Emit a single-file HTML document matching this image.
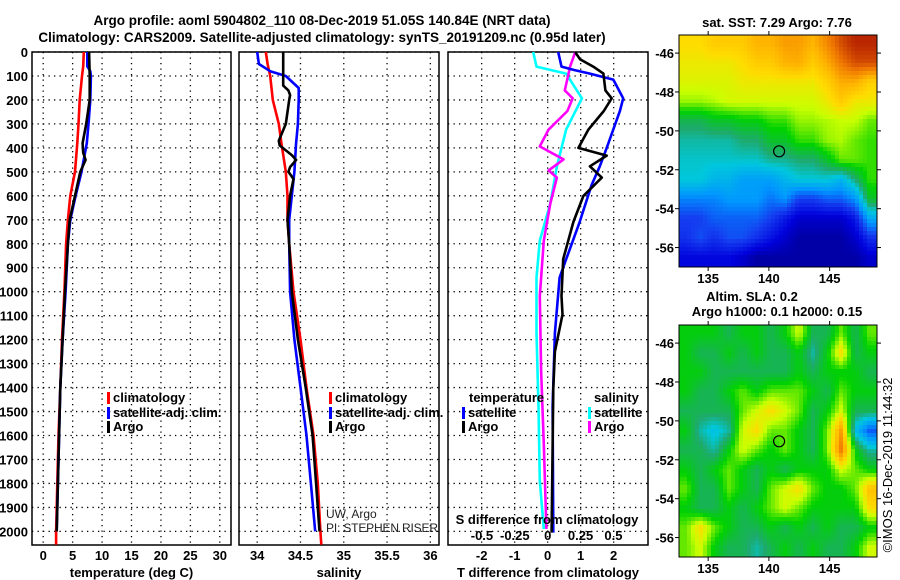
<!DOCTYPE html>
<html><head><meta charset="utf-8">
<style>
html,body{margin:0;padding:0;background:#fff;}
svg{display:block;font-family:"Liberation Sans",Arial,sans-serif;}
.b{font-weight:bold;font-size:13px;fill:#000;}
.t{font-weight:bold;font-size:13.5px;fill:#000;}
</style></head>
<body>
<svg id="chart" width="900" height="580" viewBox="0 0 900 580" xmlns="http://www.w3.org/2000/svg">
<text class="t" x="322" y="25" text-anchor="middle">Argo profile: aoml 5904802_110 08-Dec-2019 51.05S 140.84E (NRT data)</text>
<text class="t" x="322" y="42" text-anchor="middle">Climatology: CARS2009. Satellite-adjusted climatology: synTS_20191209.nc (0.95d later)</text>
<g id="layer"></g>
</svg>
<script>
// ---------- data ----------
const depthTicks=[0,100,200,300,400,500,600,700,800,900,1000,1100,1200,1300,1400,1500,1600,1700,1800,1900,2000];
const tempTicks=[0,5,10,15,20,25,30];
const salTicks=[34,34.5,35,35.5,36];
const tdiffTicks=[-2,-1,0,1,2];
const sdiffTicks=[-0.5,-0.25,0,0.25,0.5];
const sdiffTickLabels=["-0.5","-0.25","0","0.25","0.5"];

const climTempDepth=[0,60,100,200,300,380,500,600,700,800,1000,1200,1400,1600,1800,2000,2055];
const climTemp=[6.9,6.8,6.6,6.2,6.0,5.8,5.4,4.6,4.2,3.9,3.6,3.2,2.9,2.6,2.4,2.2,2.2];
const satTempDepth=[0,60,80,100,200,300,380,500,600,700,800,1000,1200,1400,1600,1800,2000];
const satTemp=[7.5,7.5,8.0,8.1,8.0,7.7,7.4,6.5,5.5,4.6,4.2,3.8,3.3,2.9,2.7,2.5,2.3];
const argoTempDepth=[0,100,200,300,380,420,450,500,600,700,800,1000,1200,1400,1600,1800,2000];
const argoTemp=[7.8,7.9,7.9,7.3,6.7,6.8,7.2,6.3,5.4,4.5,4.2,3.7,3.3,2.9,2.7,2.5,2.3];

const climSalDepth=[0,50,100,200,300,380,500,600,700,800,1000,1200,1400,1600,1800,2000,2055];
const climSal=[34.10,34.12,34.15,34.18,34.25,34.28,34.33,34.35,34.35,34.37,34.42,34.50,34.57,34.65,34.70,34.73,34.74];
const satSalDepth=[0,50,80,100,150,200,300,380,500,600,700,800,1000,1200,1400,1600,1800,2000];
const satSal=[34.00,34.02,34.15,34.33,34.48,34.48,34.47,34.45,34.43,34.40,34.37,34.37,34.38,34.43,34.50,34.57,34.62,34.67];
const argoSalDepth=[0,140,160,180,200,300,370,390,430,450,480,500,530,600,700,800,1000,1200,1400,1600,1800,2000];
const argoSal=[34.30,34.30,34.36,34.38,34.37,34.33,34.25,34.26,34.40,34.45,34.38,34.36,34.42,34.38,34.35,34.37,34.40,34.47,34.56,34.64,34.68,34.72];

const satTdDepth=[0,61,75,90,115,193,246,400,477,555,709,864,941,1172,1480,2005];
const satTd=[0.32,0.42,0.8,1.28,1.99,2.29,2.19,1.79,1.58,1.33,0.97,0.56,0.36,0.22,0.15,0.17];
const argoTdDepth=[0,30,61,90,160,193,246,324,400,432,477,524,601,709,864,1018,1095,1250,1404,2005];
const argoTd=[0.83,0.98,1.38,1.69,1.75,1.94,1.7,1.23,0.93,1.79,1.28,1.64,1.08,0.78,0.47,0.42,0.45,0.22,0.17,0.12];
const satSdDepth=[0,61,90,193,324,477,632,787,941,1172,1480,1789,1990];
const satSd=[-0.11,-0.085,0.14,0.26,0.14,0.07,0.02,-0.06,-0.085,-0.085,-0.07,-0.06,-0.03];
const argoSdDepth=[0,61,160,193,246,324,394,448,494,524,632,787,1018,1327,1635,1990];
const argoSd=[0.21,0.17,0.13,0.19,0.15,0.006,-0.06,0.12,0.007,0.07,0.02,-0.03,-0.06,-0.05,-0.03,-0.01];

const lonTicks=[135,140,145];
const latTicks=[-46,-48,-50,-52,-54,-56];
const sstGrid=[
[7,7,7.3,7.3,7.3,7.7,7.7,8,8,7.7,8.3,9,9.5,9.5],
[6.8,6.8,6.8,6.8,7,7.3,7.3,7.7,7.8,7.3,7.8,8.5,9,9],
[6.6,6.6,6.6,6.6,6.8,6.8,6.8,6.8,6.8,6.8,7.2,7.8,7.8,7.2],
[6.2,6.2,6.3,6.5,6.5,6.5,6.5,6.5,6.5,6.5,6.8,7.3,6.8,6.8],
[5,5,5.3,5.3,5.5,5.5,5.8,5.8,6.2,6.2,6.3,6.4,6.4,6],
[4.5,4.5,4.5,4.5,4.8,4.8,5.3,5.3,5.8,5.8,6.2,6.3,6,5.8],
[4.3,4.3,4.3,4.3,4.3,4.3,4.6,4.6,4.8,4.8,5.3,6,6,5.8],
[4.2,4.2,3.8,3.8,3.4,3.4,3.4,3.8,4.2,4.2,4.2,3.8,4.8,5.8],
[3,3,3,3.3,3.3,3.3,2.8,3.2,2.2,2.2,2.6,2.6,3.2,5.3],
[2.2,2.2,2.6,2.6,2.6,2.6,2.2,1.6,1,1,1,1,1.6,3.6],
[2,2.4,2,2.4,2.4,2,1.5,1,0.5,0.5,0.5,0.5,1,2],
[1.3,1.3,1.3,1.3,1,0.5,0.5,0.5,0.5,0.5,0.5,0.5,0.5,1]];
const slaGrid=[
[5.5,5.5,5.5,5,5.5,5.5,5,5.5,6.5,5,5,6,5,6],
[5.5,5,5,5.5,5,5.5,5,5,5.5,4.5,5.5,7,5,5.5],
[5.5,5.5,5,5,5,5,5,5,5.5,5,5.5,5.5,5.5,5],
[5.5,5,5,5.5,6,5.5,6,6,6,5.5,5,6,5.5,5.5],
[5,5,5,5,6,6.5,7,6.5,6,5,5.5,6.5,5,5],
[5.5,4.5,4,4.5,6.5,7,6,6,5.5,5,6,8,4,2.5],
[5,5,4.5,5.5,6.5,6,5.5,6,5.5,5,6,8.5,5.5,4.5],
[5.5,5,5.5,6,5.5,5,5.5,5,5.5,5.5,5.5,6.5,6,5.5],
[6,5,5,6,5.5,5,6,6.5,7,6,5.5,5.5,6,7.5],
[5.5,5,5,5.5,5,5.5,6,6.5,6,5.5,5.5,5.5,5.5,7],
[6,7,6,5.5,5,5,5.5,5,5.5,5,5.5,5,5,5.5],
[6,6.5,5.5,5,5,4.5,5,5.5,5,5.5,5,5,5.5,6.5]];
const floatLon=140.84, floatLat=-51.05;

// ---------- drawing ----------
const NS="http://www.w3.org/2000/svg";
const L=document.getElementById('layer');
function el(tag,attrs,parent){const e=document.createElementNS(NS,tag);for(const k in attrs)e.setAttribute(k,attrs[k]);(parent||L).appendChild(e);return e;}
function txt(x,y,s,cls,anchor,parent){const e=el('text',{x:x,y:y,'class':cls,'text-anchor':anchor||'middle'},parent);e.textContent=s;return e;}

const PT=52, PB=545;
const yD=d=>PT+d*0.2397;

function panel(name,x0,x1,v0,v1,ticks,labels,xtitle,leftLabels){
  const g=el('g',{});
  
  
  const sx=v=>x0+(v-v0)/(v1-v0)*(x1-x0);
  depthTicks.forEach(d=>{
    const ln=el('line',{x1:x0,x2:x1,y1:yD(d),y2:yD(d),stroke:'#000','stroke-width':1.3,'stroke-dasharray':'1.3 4.2'},g);
    
    
    if(leftLabels){const t=txt(x0-4,yD(d)+5,String(d),'b','end',g);
      
      }
  });
  ticks.forEach((v,i)=>{
    const x=sx(v);
    const ln=el('line',{x1:x,x2:x,y1:PT,y2:PB,stroke:'#000','stroke-width':1.3,'stroke-dasharray':'1.3 4.2'},g);
    
    
    const t=txt(x,560,labels[i],'b','middle',g);
    
    
  });
  const r=el('rect',{x:x0,y:PT,width:x1-x0,height:PB-PT,fill:'none',stroke:'#000','stroke-width':1.5},g);
  
  
  const tt=txt((x0+x1)/2,577,xtitle,'b','middle',g);
  
  
  return {g,sx};
}
function series(p,depths,vals,color,name){
  const pts=depths.map((d,i)=>p.sx(vals[i]).toFixed(1)+','+yD(d).toFixed(1)).join(' ');
  const pl=el('polyline',{points:pts,fill:'none',stroke:color,'stroke-width':2.6,'stroke-linejoin':'round'},p.g);
  
  
}
function legend(g,x,y,color,label){
  const m=el('rect',{x:x-6,y:y-10,width:3,height:12,fill:color},g);
  
  
  const t=txt(x,y,label,'b','start',g);
  
  
}

const p1=panel('temperature-panel',32,231,-1.9,31.9,tempTicks,tempTicks.map(String),'temperature (deg C)',true);
series(p1,climTempDepth,climTemp,'#ff0000','climatology-temp-line');
series(p1,satTempDepth,satTemp,'#0000ff','satellite-temp-line');
series(p1,argoTempDepth,argoTemp,'#000000','argo-temp-line');
legend(p1.g,113,402,'#ff0000','climatology');
legend(p1.g,113,417,'#0000ff','satellite-adj. clim.');
legend(p1.g,113,431,'#000000','Argo');

const p2=panel('salinity-panel',239,439,33.79,36.1,salTicks,salTicks.map(String),'salinity',false);
series(p2,climSalDepth,climSal,'#ff0000','climatology-sal-line');
series(p2,satSalDepth,satSal,'#0000ff','satellite-sal-line');
series(p2,argoSalDepth,argoSal,'#000000','argo-sal-line');
legend(p2.g,335,402,'#ff0000','climatology');
legend(p2.g,335,417,'#0000ff','satellite-adj. clim.');
legend(p2.g,335,431,'#000000','Argo');
{const a=txt(326,518,'UW, Argo','b','start',p2.g);a.setAttribute('style','font-weight:normal;font-size:12px;fill:#222');
 
 const b=txt(326,532,'PI: STEPHEN RISER','b','start',p2.g);b.setAttribute('style','font-weight:normal;font-size:12px;fill:#222');
 b.setAttribute('textLength','112');
 }

const p3=panel('difference-panel',448,648,-3.02,3.04,tdiffTicks,tdiffTicks.map(String),'T difference from climatology',false);
const p3s={g:p3.g,sx:v=>547.7+v*131.5};
series(p3s,satSdDepth,satSd,'#00ffff','satellite-sal-diff-line');
series(p3s,argoSdDepth,argoSd,'#ff00ff','argo-sal-diff-line');
series(p3,satTdDepth,satTd,'#0000ff','satellite-temp-diff-line');
series(p3,argoTdDepth,argoTd,'#000000','argo-temp-diff-line');
{const t=txt(469,402,'temperature','b','start',p3.g);
 const s=txt(594,402,'salinity','b','start',p3.g);}
legend(p3.g,468,417,'#0000ff','satellite');
legend(p3.g,468,431,'#000000','Argo');
legend(p3.g,594,417,'#00ffff','satellite');
legend(p3.g,594,431,'#ff00ff','Argo');
{const t=txt(547,524,'S difference from climatology','b','middle',p3.g);}
sdiffTicks.forEach((v,i)=>{const t=txt(p3s.sx(v),540,sdiffTickLabels[i],'b','middle',p3.g);
  
  });

const stops=[[0,[0,0,127]],[0.12,[0,0,220]],[0.22,[20,60,240]],[0.32,[0,150,255]],[0.42,[0,200,220]],[0.48,[30,170,110]],[0.56,[0,210,0]],[0.64,[200,255,0]],[0.7,[255,220,0]],[0.77,[255,180,0]],[0.85,[240,120,0]],[0.92,[200,60,0]],[1,[160,0,0]]];
function cmap(v){v=Math.max(0,Math.min(1,v/10));for(let i=1;i<stops.length;i++){if(v<=stops[i][0]){const a=stops[i-1],b=stops[i];const t=(v-a[0])/(b[0]-a[0]);const c=a[1].map((x,k)=>Math.round(x+(b[1][k]-x)*t));return 'rgb('+c.join(',')+')';}}return 'rgb(160,0,0)';}
const LON0=132.6,LON1=148.9,LAT0=-45.07,LAT1=-57.0;
function drawMap(name,x0,y0,x1,y1,grid){
  const g=el('g',{});
  
  
  const sx=lo=>x0+(lo-LON0)/(LON1-LON0)*(x1-x0);
  const sy=la=>y0+(la-LAT0)/(LAT1-LAT0)*(y1-y0);
  const nr=grid.length,nc=grid[0].length,cw=4,ch=4;
  for(let y=y0;y<y1;y+=ch){for(let x=x0;x<x1;x+=cw){
    const lo=LON0+(x+cw/2-x0)/(x1-x0)*(LON1-LON0);
    const la=LAT0+(y+ch/2-y0)/(y1-y0)*(LAT1-LAT0);
    let fc=(lo-133.2)/1.16, fr=(-45.5-la);
    fc=Math.max(0,Math.min(nc-1.001,fc)); fr=Math.max(0,Math.min(nr-1.001,fr));
    const c=Math.floor(fc),r=Math.floor(fr),tx=fc-c,ty=fr-r;
    const v=grid[r][c]*(1-tx)*(1-ty)+grid[r][c+1]*tx*(1-ty)+grid[r+1][c]*(1-tx)*ty+grid[r+1][c+1]*tx*ty;
    const cell=el('rect',{x:x,y:y,width:Math.min(cw,x1-x)+0.3,height:Math.min(ch,y1-y)+0.3,fill:cmap(v)},g);
    
    
  }}
  const fr=el('rect',{x:x0,y:y0,width:x1-x0,height:y1-y0,fill:'none',stroke:'#000','stroke-width':1},g);
  
  
  latTicks.forEach(la=>{const y=sy(la);
    el('line',{x1:x0-4,x2:x0,y1:y,y2:y,stroke:'#000'},g);
    el('line',{x1:x1,x2:x1+4,y1:y,y2:y,stroke:'#000'},g);
    const t=txt(x0-5,y+5,String(la),'b','end',g);
    
    });
  lonTicks.forEach(lo=>{const x=sx(lo);
    el('line',{x1:x,x2:x,y1:y0-4,y2:y0,stroke:'#000'},g);
    el('line',{x1:x,x2:x,y1:y1,y2:y1+4,stroke:'#000'},g);
    const t=txt(x,y1+16,String(lo),'b','middle',g);
    
    });
  const m=el('circle',{cx:sx(floatLon),cy:sy(floatLat),r:5.5,fill:'none',stroke:'#000','stroke-width':1.2},g);
  
  
  return g;
}
drawMap('sst-map',679,35,877,267,sstGrid);
drawMap('sla-map',679,325,877,557,slaGrid);
{const a=txt(777,27,'sat. SST: 7.29 Argo: 7.76','b','middle');
 const b=txt(752,301,'Altim. SLA: 0.2','b','middle');
 const c=txt(777,316,'Argo h1000: 0.1 h2000: 0.15','b','middle');
 const d=txt(0,0,'©IMOS 16-Dec-2019 11:44:32','b','middle');d.setAttribute('style','font-weight:normal');
 d.setAttribute('transform','translate(892,465) rotate(-90)');
 }
</script>
</body></html>
